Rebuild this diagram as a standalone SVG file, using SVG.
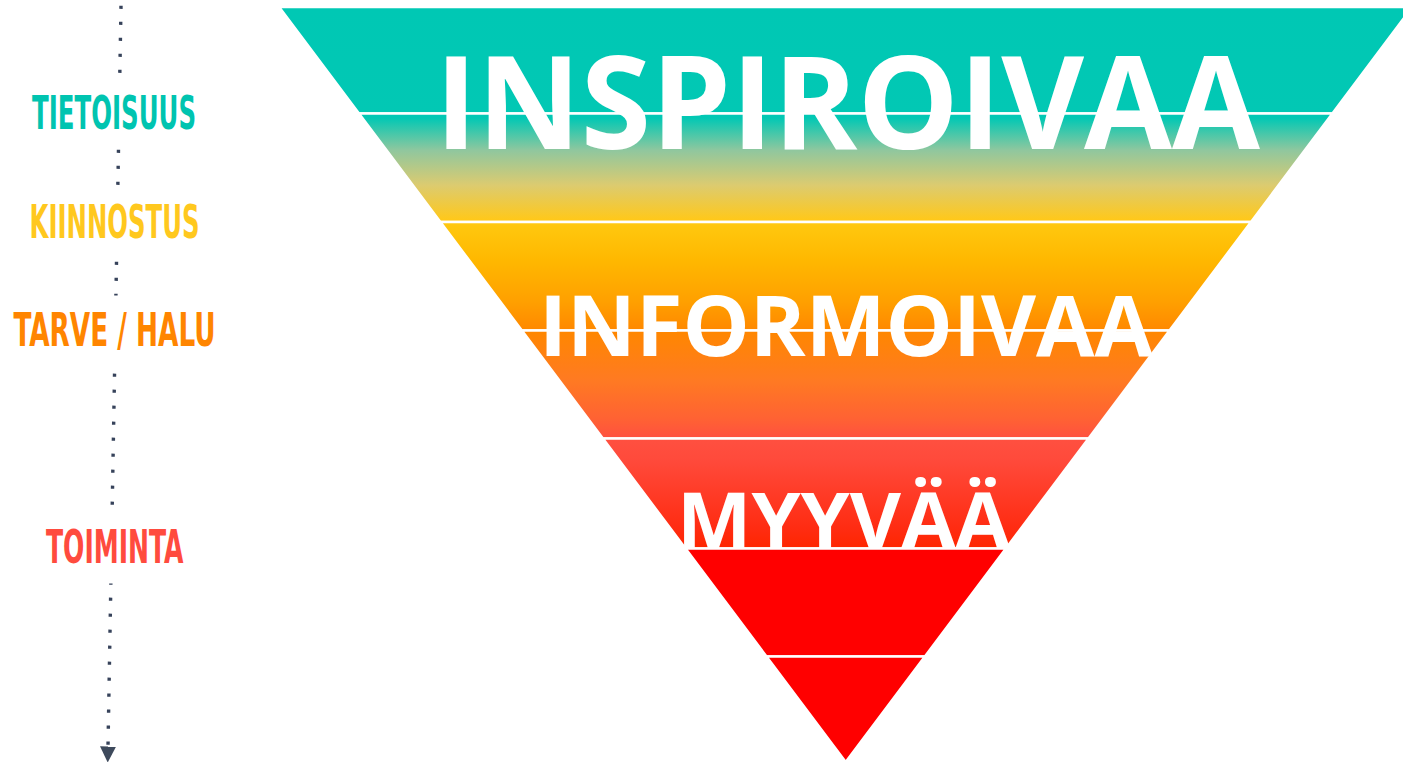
<svg xmlns="http://www.w3.org/2000/svg" width="1403" height="763" viewBox="0 0 1403 763">
<defs>
<style>
.band{fill:url(#funnel);stroke:#ffffff;stroke-width:2.5;stroke-linejoin:miter}
.big{font-family:"Open Sans","Liberation Sans",sans-serif;font-weight:700;fill:#ffffff}
.lbl{font-family:"Liberation Sans Narrow","DejaVu Sans Condensed","Liberation Sans",sans-serif;font-weight:700;font-size:47px}
.pad{fill:#ffffff}
.dots{fill:none;stroke:#36425a;stroke-width:3.4;stroke-dasharray:3.2 12.8;stroke-linecap:butt}
</style>
<linearGradient id="funnel" gradientUnits="userSpaceOnUse" x1="0" y1="7" x2="0" y2="762">
<stop offset="0" stop-color="#00c8b4"/>
<stop offset="0.147" stop-color="#02c8b4"/>
<stop offset="0.19" stop-color="#90c79e"/>
<stop offset="0.236" stop-color="#dccb70"/>
<stop offset="0.282" stop-color="#ffc81a"/>
<stop offset="0.29" stop-color="#ffc70e"/>
<stop offset="0.335" stop-color="#ffb800"/>
<stop offset="0.39" stop-color="#ffa000"/>
<stop offset="0.43" stop-color="#ff8700"/>
<stop offset="0.494" stop-color="#ff7a22"/>
<stop offset="0.545" stop-color="#ff6233"/>
<stop offset="0.572" stop-color="#ff5040"/>
<stop offset="0.6" stop-color="#ff4a3b"/>
<stop offset="0.69" stop-color="#ff2c12"/>
<stop offset="0.716" stop-color="#ff2600"/>
<stop offset="0.718" stop-color="#ff0000"/>
<stop offset="1" stop-color="#ff0000"/>
</linearGradient>
<marker id="arrow" viewBox="0 0 16 16" refX="0" refY="8" markerWidth="16" markerHeight="16" markerUnits="userSpaceOnUse" orient="auto">
<path d="M0,0 L16,8 L0,16 Z" fill="#3e4a5c"/>
</marker>
</defs>

<g id="connectors">
<line class="dots" x1="121" y1="5.7" x2="108" y2="746.5" marker-end="url(#arrow)"/>
</g>

<g id="label-tietoisuus">
<rect class="pad" x="20" y="74" width="190" height="75"/>
<text class="lbl" x="32" y="129.3" fill="#00c4b0" textLength="164" lengthAdjust="spacingAndGlyphs">TIETOISUUS</text>
</g>
<g id="label-kiinnostus">
<rect class="pad" x="20" y="186" width="190" height="75"/>
<text class="lbl" x="29.5" y="238.3" fill="#ffc81e" textLength="170" lengthAdjust="spacingAndGlyphs">KIINNOSTUS</text>
</g>
<g id="label-tarve-halu">
<rect class="pad" x="5" y="295.5" width="220" height="77.5"/>
<text class="lbl" x="13.5" y="346" fill="#ff8500" textLength="202" lengthAdjust="spacingAndGlyphs">TARVE / HALU</text>
</g>
<g id="label-toiminta">
<rect class="pad" x="30" y="506" width="170" height="77.5"/>
<text class="lbl" x="46" y="562.7" fill="#ff4b3e" textLength="137.5" lengthAdjust="spacingAndGlyphs">TOIMINTA</text>
</g>

<g id="funnel-bands">
<polygon id="band-1" class="band" points="279.1,7 1412.3,7 1332.4,113.5 359,113.5"/>
<polygon id="band-2" class="band" points="359,113.5 1332.4,113.5 1251,222 440.4,222"/>
<polygon id="band-3" class="band" points="440.4,222 1251,222 1169.5,330.5 521.9,330.5"/>
<polygon id="band-4" class="band" points="521.9,330.5 1169.5,330.5 1088.5,438.5 602.9,438.5"/>
<polygon id="band-5" class="band" points="602.9,438.5 1088.5,438.5 1005.9,548.5 685.5,548.5"/>
<polygon id="band-6" class="band" points="685.5,548.5 1005.9,548.5 924.9,656.5 766.5,656.5"/>
<polygon id="band-7" class="band" points="766.5,656.5 924.9,656.5 845.7,762"/>
</g>

<g id="text-inspiroivaa">
<text class="big" x="435" y="148.5" font-size="129" textLength="825" lengthAdjust="spacingAndGlyphs">INSPIROIVAA</text>
</g>
<g id="text-informoivaa">
<text class="big" x="539" y="355.5" font-size="84" textLength="614" lengthAdjust="spacingAndGlyphs">INFORMOIVAA</text>
</g>
<g id="text-myyvaa">
<text class="big" x="677" y="547.5" font-size="77" textLength="333" lengthAdjust="spacingAndGlyphs">MYYVÄÄ</text>
</g>
</svg>
